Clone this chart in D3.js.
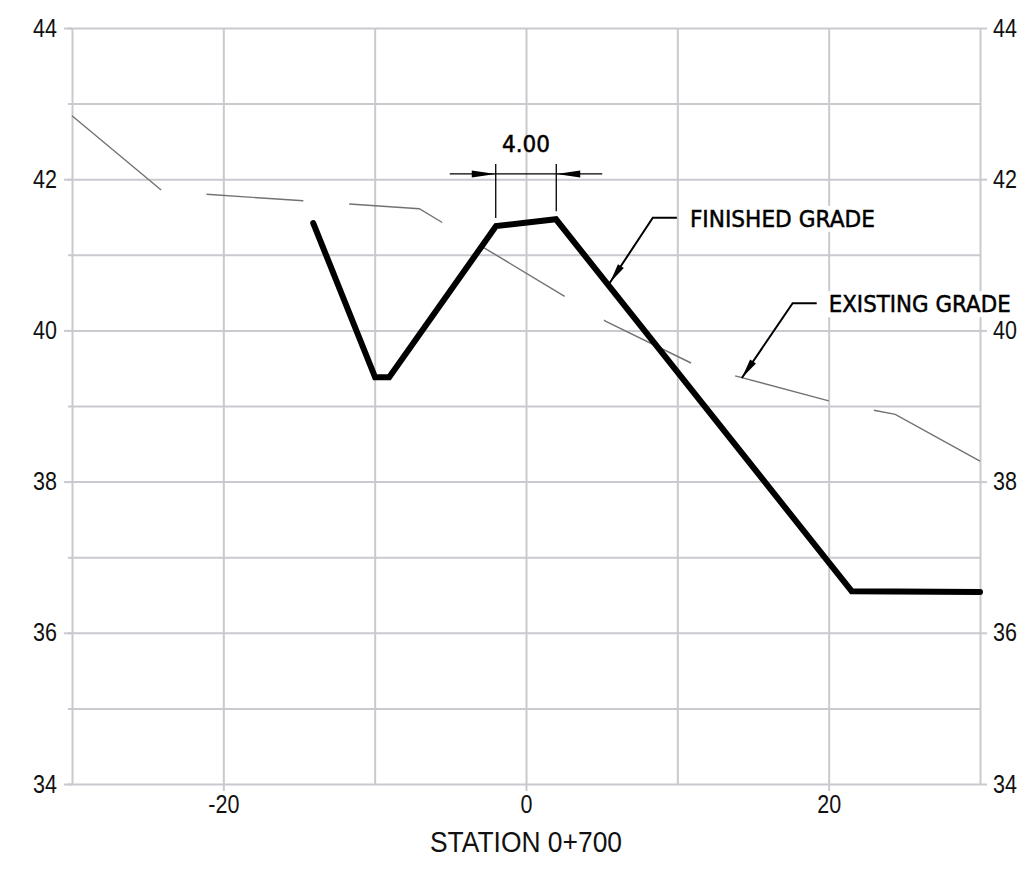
<!DOCTYPE html>
<html>
<head>
<meta charset="utf-8">
<script src="https://cdn.jsdelivr.net/npm/d3@7"></script>
<style>
  body { margin: 0; background: #fff; }
  svg { display: block; }
  .note { font-family: "DejaVu Sans", sans-serif; fill: #000; stroke: #000; stroke-width: 0.5px; }
</style>
</head>
<body>
<svg></svg>
<script>
// finished grade (thick line)
var finishedX = [-14.06, -9.97, -9.04, -1.98, 1.98, 21.52, 30];
var finishedY = [41.42, 39.38, 39.38, 41.38, 41.47, 36.55, 36.54];

// existing grade (thin dashed line)
var existingX = [-30, -24, -7.05, 5.28, 11.2, 20.7, 24.4, 30];
var existingY = [42.84, 41.84, 41.61, 40.12, 39.54, 39.03, 38.89, 38.27];

// ticks
var xLabelTicks = [-20, 0, 20];
var xGridTicks = [-30, -20, -10, 0, 10, 20, 30];
var yLabelTicks = [34, 36, 38, 40, 42, 44];
var yGridTicks = [34, 35, 36, 37, 38, 39, 40, 41, 42, 43, 44];

// dimension between top corners
var dimFrom = -2, dimTo = 2, dimLevel = 42.07, dimText = "4.00";

// leader notes: tip, kink, end of shoulder, text
var notes = [
  { text: "FINISHED  GRADE", tip: [5.54, 40.63], kink: [8.38, 41.49], end: 9.97, tx: 10.83, ty: 41.37, len: 185 },
  { text: "EXISTING  GRADE", tip: [14.26, 39.37], kink: [17.62, 40.36], end: 19.21, tx: 20.0, ty: 40.24, len: 182 }
];

var xTitle = "STATION 0+700";

var W = 1026, H = 873;
var margin = { top: 28, right: 46, bottom: 89, left: 72 };

var svg = d3.select("svg").attr("width", W).attr("height", H);

var x = d3.scaleLinear().domain([-30, 30]).range([margin.left, W - margin.right]);
var y = d3.scaleLinear().domain([34, 44]).range([H - margin.bottom, margin.top]);

var gridColor = "#c9cacf";
var fmt = function(d) { return String(d); };

function styleAxis(g) {
  g.select(".domain").remove();
  g.selectAll("line").attr("stroke", gridColor).attr("stroke-width", 2);
  // labels look like a slightly condensed arial
  g.selectAll("text")
    .attr("fill", "#111")
    .style("font-family", "'Liberation Sans', Arial, sans-serif")
    .style("font-size", "25px")
    .each(function() {
      var w = this.getComputedTextLength();
      if (w > 0) d3.select(this).attr("textLength", w * 0.86).attr("lengthAdjust", "spacingAndGlyphs");
    });
}

// vertical grid
svg.append("g")
  .attr("transform", "translate(0," + (H - margin.bottom) + ")")
  .call(d3.axisBottom(x).tickValues(xGridTicks).tickSize(-(H - margin.top - margin.bottom)).tickFormat(""))
  .call(styleAxis);

// horizontal grid (short ticks on left for odd values)
svg.append("g")
  .attr("transform", "translate(" + margin.left + ",0)")
  .call(d3.axisLeft(y).tickValues(yGridTicks).tickSize(0).tickFormat(""))
  .call(styleAxis)
  .call(function(g) {
    g.selectAll("line").attr("x1", -4).attr("x2", W - margin.left - margin.right);
  });

// left labels
svg.append("g")
  .attr("transform", "translate(" + margin.left + ",0)")
  .call(d3.axisLeft(y).tickValues(yLabelTicks).tickSize(8).tickPadding(7).tickFormat(fmt))
  .call(styleAxis);

// right labels
svg.append("g")
  .attr("transform", "translate(" + (W - margin.right) + ",0)")
  .call(d3.axisRight(y).tickValues(yLabelTicks).tickSize(7).tickPadding(6).tickFormat(fmt))
  .call(styleAxis);

// bottom labels
svg.append("g")
  .attr("transform", "translate(0," + (H - margin.bottom) + ")")
  .call(d3.axisBottom(x).tickValues(xLabelTicks).tickSize(7).tickPadding(4).tickFormat(fmt))
  .call(styleAxis);

svg.append("text")
  .attr("x", x(0))
  .attr("y", 852)
  .attr("text-anchor", "middle")
  .attr("fill", "#111")
  .style("font-family", "'Liberation Sans', Arial, sans-serif")
  .style("font-size", "29px")
  .attr("textLength", 192)
  .attr("lengthAdjust", "spacingAndGlyphs")
  .text(xTitle);

var line = d3.line().x(function(d) { return x(d[0]); }).y(function(d) { return y(d[1]); });

// existing grade - long dashes, first and last a bit longer
var ex = svg.append("path")
  .datum(d3.zip(existingX, existingY))
  .attr("d", line)
  .attr("fill", "none")
  .attr("stroke", "#727272")
  .attr("stroke-width", 1.4);
var total = ex.node().getTotalLength();
var dashes = [116, 46], run = 162;
while (run + 97 + 46 < total) { dashes.push(97, 46); run += 143; }
dashes.push(total - run + 5, 10);
ex.attr("stroke-dasharray", dashes.join(","));

// finished grade
svg.append("path")
  .datum(d3.zip(finishedX, finishedY))
  .attr("d", line)
  .attr("fill", "none")
  .attr("stroke", "#000")
  .attr("stroke-width", 6)
  .attr("stroke-linejoin", "miter")
  .attr("stroke-linecap", "round");

// arrowhead helper: filled triangle with tip at (tx,ty) coming from (fx,fy)
function arrow(g, fx, fy, tx, ty, len, half) {
  var a = Math.atan2(ty - fy, tx - fx);
  var bx = tx - len * Math.cos(a), by = ty - len * Math.sin(a);
  var px = -Math.sin(a) * half, py = Math.cos(a) * half;
  g.append("path")
    .attr("d", "M" + tx + "," + ty + "L" + (bx + px) + "," + (by + py) + "L" + (bx - px) + "," + (by - py) + "Z")
    .attr("fill", "#000");
}

// dimension
var dim = svg.append("g");
var dy = y(dimLevel);
[dimFrom, dimTo].forEach(function(v, i) {
  var top = finishedY[3 + i];
  dim.append("line")
    .attr("x1", x(v)).attr("x2", x(v))
    .attr("y1", dy - 10).attr("y2", y(top) - 8)
    .attr("stroke", "#000").attr("stroke-width", 1.3);
});
dim.append("line")
  .attr("x1", x(dimFrom) - 46).attr("x2", x(dimTo) + 46)
  .attr("y1", dy).attr("y2", dy)
  .attr("stroke", "#000").attr("stroke-width", 1.3);
arrow(dim, x(dimFrom) - 30, dy, x(dimFrom), dy, 24, 3.5);
arrow(dim, x(dimTo) + 30, dy, x(dimTo), dy, 24, 3.5);
dim.append("text")
  .attr("class", "note")
  .attr("x", x((dimFrom + dimTo) / 2))
  .attr("y", dy - 22)
  .attr("text-anchor", "middle")
  .style("font-size", "23px")
  .attr("textLength", 48)
  .attr("lengthAdjust", "spacingAndGlyphs")
  .text(dimText);

// leaders and notes
notes.forEach(function(n) {
  var g = svg.append("g");
  var tx = x(n.tx), ty = y(n.ty);
  g.append("rect")
    .attr("x", tx - 4).attr("y", ty - 21)
    .attr("width", n.len + 8).attr("height", 26)
    .attr("fill", "#fff");
  g.append("text")
    .attr("class", "note")
    .attr("x", tx).attr("y", ty)
    .style("font-size", "23px")
    .attr("textLength", n.len)
    .attr("lengthAdjust", "spacingAndGlyphs")
    .text(n.text);
  g.append("path")
    .attr("d", line([[n.end, n.kink[1]], n.kink, n.tip]))
    .attr("fill", "none")
    .attr("stroke", "#000").attr("stroke-width", 2);
  arrow(g, x(n.kink[0]), y(n.kink[1]), x(n.tip[0]), y(n.tip[1]), 20, 3.5);
});
</script>
</body>
</html>
